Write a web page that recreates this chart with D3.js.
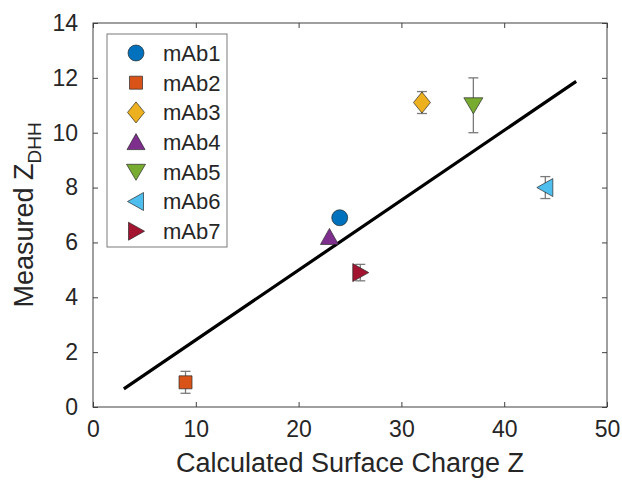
<!DOCTYPE html>
<html>
<head>
<meta charset="utf-8">
<script src="https://cdn.jsdelivr.net/npm/d3@7"></script>
<style>
  html, body { margin: 0; padding: 0; background: #fff; }
  svg { display: block; font-family: "Liberation Sans", Arial, sans-serif; }
</style>
</head>
<body>
<svg id="chart" width="622" height="480"></svg>
<script>
// ---- data ----
const names   = ["mAb1", "mAb2", "mAb3", "mAb4", "mAb5", "mAb6", "mAb7"];
const charges = [24, 9, 32, 23, 37, 44, 26];
const zdhh    = [6.9, 0.9, 11.1, 6.2, 11.0, 8.0, 4.9];
const errs    = [0, 0.4, 0.4, 0, 1.0, 0.4, 0.3];
const shapes  = ["circle", "square", "diamond", "up", "down", "left", "right"];
const colors  = ["#0072BD", "#D95319", "#EDB120", "#7E2F8E", "#77AC30", "#4DBEEE", "#A2142F"];
const fitX    = [3, 47];
const fitY    = [0.66, 11.87];
const xTicks  = [0, 10, 20, 30, 40, 50];
const yTicks  = [0, 2, 4, 6, 8, 10, 12, 14];

// ---- layout ----
const L = 93, R = 607, T = 23, B = 407;
const svg = d3.select("#chart");
const x = d3.scaleLinear().domain([0, 50]).range([L, R]);
const y = d3.scaleLinear().domain([0, 14]).range([B, T]);
const textCol = "#262626";
const axisCol = "#404040";

// ticks / axes (inward ticks on all sides)
const ax = [
  { a: d3.axisBottom(x).tickValues(xTicks).tickSizeInner(-5).tickSizeOuter(0).tickPadding(14), t: `translate(0,${B})`, labels: true },
  { a: d3.axisTop(x).tickValues(xTicks).tickSizeInner(-5).tickSizeOuter(0), t: `translate(0,${T})`, labels: false },
  { a: d3.axisLeft(y).tickValues(yTicks).tickSizeInner(-5).tickSizeOuter(0).tickPadding(15), t: `translate(${L},0)`, labels: true },
  { a: d3.axisRight(y).tickValues(yTicks).tickSizeInner(-5).tickSizeOuter(0), t: `translate(${R},0)`, labels: false }
];
ax.forEach(o => {
  const g = svg.append("g").attr("transform", o.t).call(o.a);
  g.select(".domain").remove();
  g.selectAll(".tick line").attr("stroke", axisCol).attr("stroke-width", 1);
  g.selectAll(".tick text")
    .attr("fill", textCol)
    .style("font-size", "23px")
    .style("font-family", "'Liberation Sans', Arial, sans-serif");
  if (!o.labels) g.selectAll(".tick text").remove();
});

// box
svg.append("rect")
  .attr("x", L).attr("y", T).attr("width", R - L).attr("height", B - T)
  .attr("fill", "none").attr("stroke", axisCol).attr("stroke-width", 1);

// fit line
svg.append("path")
  .datum(fitX.map((v, i) => [v, fitY[i]]))
  .attr("d", d3.line().x(d => x(d[0])).y(d => y(d[1])))
  .attr("stroke", "#000").attr("stroke-width", 3.2).attr("fill", "none");

// marker path generator
function markerPath(shape) {
  switch (shape) {
    case "circle":  return d3.symbol(d3.symbolCircle, 200)();
    case "square":  return "M-6.5,-6.5H6.5V6.5H-6.5Z";
    case "diamond": return "M0,-10.5L8.5,0L0,10.5L-8.5,0Z";
    case "up":      return "M0,-8.5L9,7.5L-9,7.5Z";
    case "down":    return "M0,8.5L9.5,-7.5L-9.5,-7.5Z";
    case "left":    return "M-8.5,0L7.5,-9L7.5,9Z";
    case "right":   return "M8.5,0L-7.5,-9L-7.5,9Z";
  }
}

const data = names.map((n, i) => ({ name: n, cx: charges[i], cy: zdhh[i], e: errs[i], s: shapes[i], c: colors[i] }));

// error bars
const eb = svg.append("g").attr("stroke", "#7a7a7a").attr("stroke-width", 1.3).attr("fill", "none");
data.filter(d => d.e > 0).forEach(d => {
  const px = x(d.cx), y0 = y(d.cy - d.e), y1 = y(d.cy + d.e);
  eb.append("line").attr("x1", px).attr("x2", px).attr("y1", y0).attr("y2", y1);
  eb.append("line").attr("x1", px - 5).attr("x2", px + 5).attr("y1", y0).attr("y2", y0);
  eb.append("line").attr("x1", px - 5).attr("x2", px + 5).attr("y1", y1).attr("y2", y1);
});

// markers
svg.append("g").selectAll("path").data(data).join("path")
  .attr("transform", d => `translate(${x(d.cx)},${y(d.cy)})`)
  .attr("d", d => markerPath(d.s))
  .attr("fill", d => d.c)
  .attr("stroke", "#2a2a2a").attr("stroke-width", 0.7);

// legend
const lg = svg.append("g");
lg.append("rect")
  .attr("x", 107).attr("y", 34).attr("width", 120).attr("height", 213)
  .attr("fill", "#fff").attr("stroke", "#7a7a7a").attr("stroke-width", 1);
data.forEach((d, i) => {
  const ry = 53 + i * 29.7;
  lg.append("path")
    .attr("transform", `translate(136,${ry})`)
    .attr("d", markerPath(d.s))
    .attr("fill", d.c).attr("stroke", "#2a2a2a").attr("stroke-width", 0.7);
  lg.append("text")
    .attr("x", 163).attr("y", ry).attr("dy", "0.36em")
    .attr("fill", textCol).style("font-size", "22px")
    .text(d.name);
});

// axis titles
svg.append("text")
  .attr("x", (L + R) / 2).attr("y", 472)
  .attr("text-anchor", "middle").attr("fill", textCol)
  .style("font-size", "27px")
  .text("Calculated Surface Charge Z");

const yl = svg.append("text")
  .attr("transform", `translate(33,${(T + B) / 2}) rotate(-90)`)
  .attr("text-anchor", "middle").attr("fill", textCol)
  .style("font-size", "27px");
yl.append("tspan").text("Measured Z");
yl.append("tspan").attr("dy", 8).style("font-size", "19px").text("DHH");
</script>
</body>
</html>
